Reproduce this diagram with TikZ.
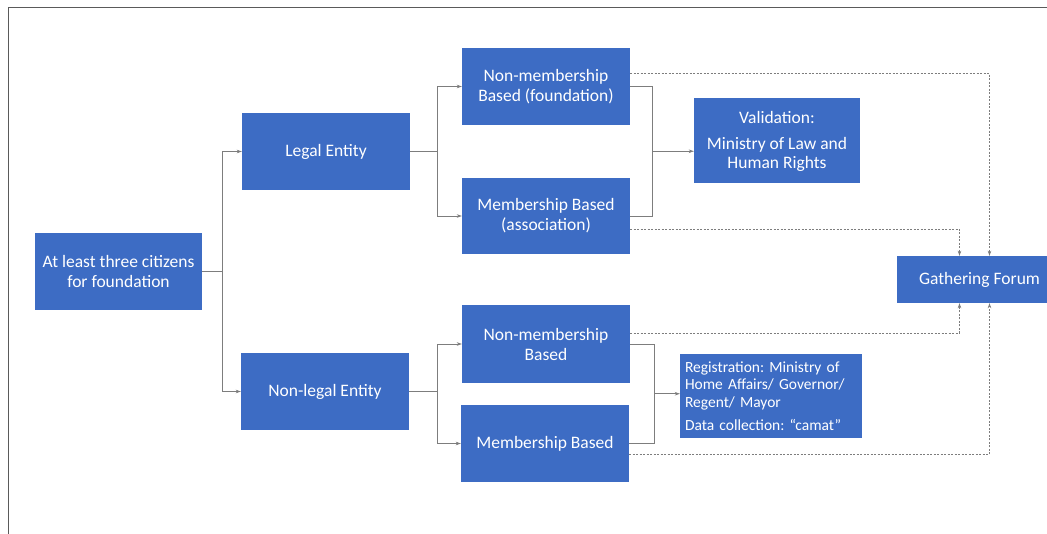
\documentclass[tikz,border=0pt]{standalone}
\usepackage{fontspec}
\setmainfont{Carlito}
\usetikzlibrary{arrows.meta}
\frenchspacing
\definecolor{boxblue}{RGB}{61,108,196}
\definecolor{linegray}{RGB}{125,125,125}
\definecolor{framegray}{RGB}{90,90,90}
\tikzset{
  blk/.style={fill=boxblue, text=white, minimum width=168pt, minimum height=77pt,
    align=center, inner sep=2pt, font=\fontsize{17.5}{20}\selectfont},
  link/.style={draw=linegray, line width=0.7pt, -{Stealth[length=5pt,width=3.5pt]}},
  dlink/.style={link, dash pattern=on 2pt off 1.5pt},
}
\begin{document}
\begin{tikzpicture}[x=1pt,y=-1pt]
\clip (0,0) rectangle (1047,534);
\fill[white] (0,0) rectangle (1047,534);
\draw[framegray, line width=1pt] (8,534) -- (8,8) -- (1047,8);
% boxes
\node[blk, minimum width=167pt] (start) at (118.5,271.5) {At least three citizens\\for foundation};
\node[blk] (legal) at (326,151.5) {Legal Entity};
\node[blk] (nonlegal) at (325,391.5) {Non-legal Entity};
\node[blk] (nmf) at (546,86.5) {Non-membership\\Based (foundation)};
\node[blk, minimum height=76pt] (mba) at (546,216) {Membership Based\\(association)};
\node[blk, minimum height=78pt] (nml) at (546,344) {Non-membership\\Based};
\node[blk] (mbl) at (545,443.5) {Membership Based};
\node[blk, minimum width=166pt, minimum height=85pt, font=\fontsize{17.5}{19}\selectfont] (val) at (777,141)
  {Validation:\\[7pt]Ministry of Law and\\Human Rights};
\node[blk, minimum width=182pt, minimum height=84pt, align=left, inner sep=5pt, text width=172pt,
  font=\fontsize{15.5}{17.5}\selectfont] (reg) at (771,396)
  {Registration: Ministry of\\Home Affairs/ Governor/\\Regent/ Mayor\\[6pt]Data collection: ``camat''};
\node[blk, minimum width=165pt, minimum height=47pt] (gath) at (979.5,279.5) {Gathering Forum};
% solid connectors
\draw[link] (start.east) -- ++(20,0) |- (legal.west);
\draw[link] (start.east) -- ++(20,0) |- (nonlegal.west);
\draw[link] (legal.east) -- ++(27,0) |- (nmf.west);
\draw[link] (legal.east) -- ++(27,0) |- (mba.west);
\draw[link] (nonlegal.east) -- ++(28,0) |- (nml.west);
\draw[link] (nonlegal.east) -- ++(28,0) |- (mbl.west);
\draw[linegray, line width=0.7pt] (nmf.east) -- ++(22,0) coordinate (vtop)
  -- (vtop |- mba.east) node[coordinate, midway] (vmid) {} -- (mba.east);
\draw[link] (vmid) -- (vmid -| val.west);
\draw[linegray, line width=0.7pt] (nml.east) -- ++(24,0) coordinate (rtop)
  -- (rtop |- mbl.east) node[coordinate, midway] (rmid) {} -- (mbl.east);
\draw[link] (rmid) -- (rmid -| reg.west);
% dashed connectors
\draw[dlink] ([yshift=13pt]nmf.east) -| ([xshift=10pt]gath.north);
\draw[dlink] ([yshift=-13pt]mba.east) -| ([xshift=-20pt]gath.north);
\draw[dlink] ([yshift=11pt]nml.east) -| ([xshift=-20pt]gath.south);
\draw[dlink] ([yshift=-11pt]mbl.east) -| ([xshift=10pt]gath.south);
\end{tikzpicture}
\end{document}
